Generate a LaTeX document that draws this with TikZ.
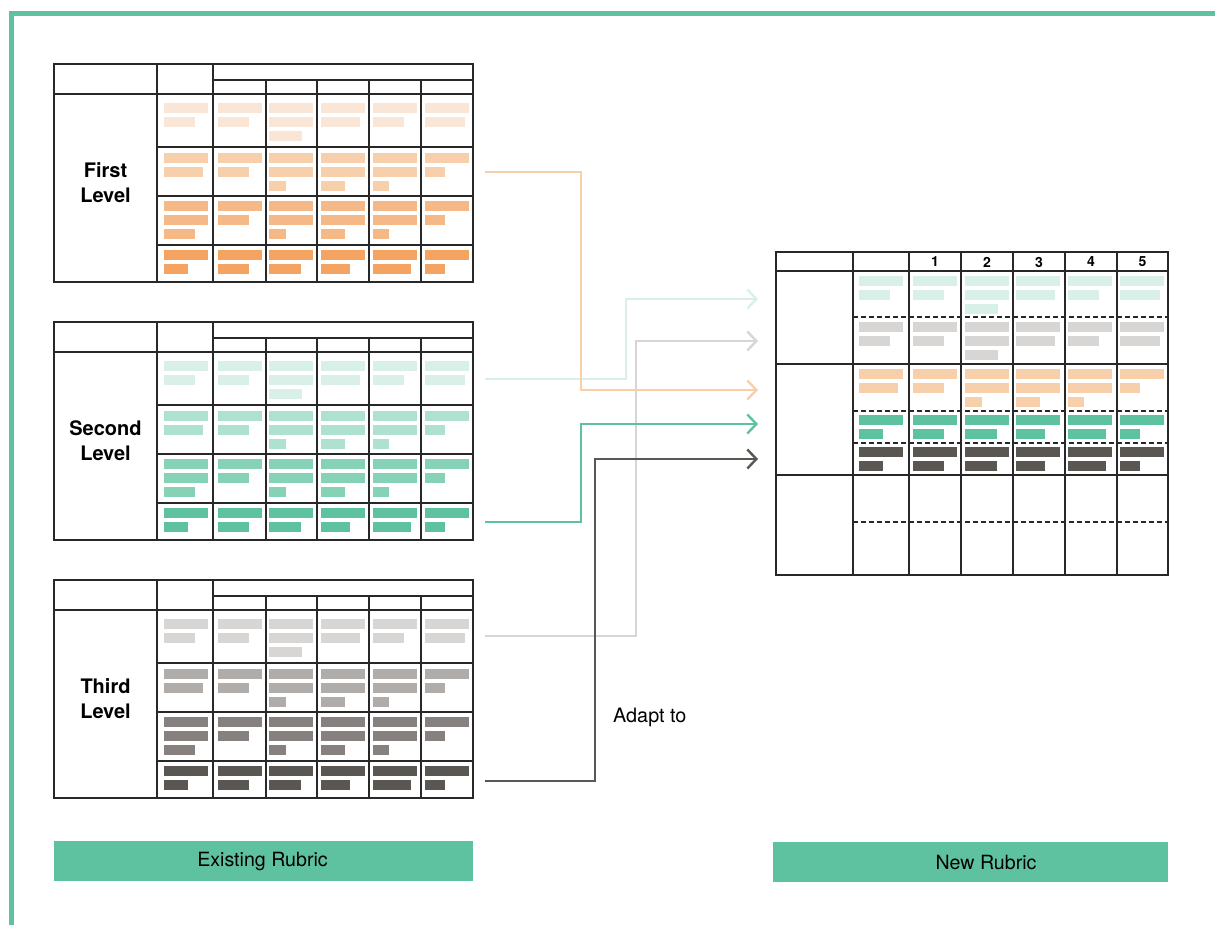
\documentclass[tikz,border=0pt]{standalone}
\usepackage{fontspec}
\setmainfont{TeX Gyre Heros}
\usetikzlibrary{arrows.meta}

% palette
\definecolor{brand}{RGB}{94,193,159}
\definecolor{gridc}{RGB}{40,40,40}
\definecolor{o1}{RGB}{250,230,214}
\definecolor{o2}{RGB}{248,207,171}
\definecolor{o3}{RGB}{245,185,135}
\definecolor{o4}{RGB}{244,164,96}
\definecolor{g1}{RGB}{216,240,232}
\definecolor{g2}{RGB}{175,225,208}
\definecolor{g3}{RGB}{134,210,183}
\definecolor{g4}{RGB}{94,193,159}
\definecolor{k1}{RGB}{216,214,212}
\definecolor{k2}{RGB}{176,172,170}
\definecolor{k3}{RGB}{134,128,126}
\definecolor{k4}{RGB}{90,86,82}

% placeholder bar patterns: column/line/width
\def\patA{0/0/44,0/1/31,1/0/44,1/1/31,2/0/44,2/1/44,2/2/33,3/0/44,3/1/39,4/0/44,4/1/31,5/0/44,5/1/40}
\def\patB{0/0/44,0/1/39,1/0/44,1/1/31,2/0/44,2/1/44,2/2/17,3/0/44,3/1/44,3/2/24,4/0/44,4/1/44,4/2/16,5/0/44,5/1/20}
\def\patC{0/0/44,0/1/44,0/2/31,1/0/44,1/1/31,2/0/44,2/1/44,2/2/17,3/0/44,3/1/44,3/2/24,4/0/44,4/1/44,4/2/16,5/0/44,5/1/20}
\def\patD{0/0/44,0/1/24,1/0/44,1/1/31,2/0/44,2/1/32,3/0/44,3/1/29,4/0/44,4/1/38,5/0/44,5/1/20}

% left edges of the bars in each column
\def\xL{164,218,269,321,373,425}
\def\xR{859,913,965,1016,1068,1120}

% one band of bars: #1 x starts, #2 top, #3 colour, #4 pattern
\newcommand\barrow[4]{%
  \foreach \c/\k/\w in #4 {
    \pgfmathsetmacro\xs{{#1}[\c]}
    \fill[#3] (\xs,#2+14*\k) rectangle ++(\w,10);
  }%
}

% an existing rubric: #1 top, #2 label name, #3 label, #4-#7 band colours
\newcommand\oldrubric[7]{%
  \barrow{\xL}{#1+39}{#4}{\patA}
  \barrow{\xL}{#1+89}{#5}{\patB}
  \barrow{\xL}{#1+137}{#6}{\patC}
  \barrow{\xL}{#1+186}{#7}{\patD}
  \draw[grid] (54,#1) rectangle (473,#1+218);
  \draw[grid] (157,#1) -- (157,#1+218);
  \draw[grid] (213,#1) -- (213,#1+218);
  \foreach \x in {266,317,369,421} \draw[grid] (\x,#1+16) -- (\x,#1+218);
  \draw[grid] (213,#1+16) -- (473,#1+16);
  \draw[grid] (54,#1+30) -- (473,#1+30);
  \foreach \d in {83,132,181} \draw[grid] (157,#1+\d) -- (473,#1+\d);
  \node[level] (#2) at (105.5,#1+119) {#3};
}

\begin{document}
\begin{tikzpicture}[x=1pt,y=-1pt,
  grid/.style={draw=gridc,line width=1.8pt},
  dash line/.style={grid,dash pattern=on 5pt off 3pt},
  level/.style={font=\fontsize{20}{25}\selectfont\bfseries,align=center,inner sep=0pt},
  num/.style={font=\fontsize{14}{16}\selectfont\bfseries,inner sep=0pt},
  link/.style={line width=2.4pt,-{Straight Barb[length=9pt,width=19pt]}},
  greenbox/.style={fill=brand,inner sep=0pt},
  boxtext/.style={font=\fontsize{19.6}{21}\selectfont,inner sep=0pt}]

\useasboundingbox (0,0) rectangle (1215,925);

% page frame
\draw[brand,line width=5pt] (11,925) -- (11,13.5) -- (1215,13.5);

% existing rubrics
\oldrubric{64}{first}{First\\Level}{o1}{o2}{o3}{o4}
\oldrubric{322}{second}{Second\\Level}{g1}{g2}{g3}{g4}
\oldrubric{580}{third}{Third\\Level}{k1}{k2}{k3}{k4}

% new rubric bars
\barrow{\xR}{276}{g1}{\patA}
\barrow{\xR}{322}{k1}{\patA}
\barrow{\xR}{369}{o2}{\patB}
\barrow{\xR}{415}{g4}{\patD}
\barrow{\xR}{447}{k4}{\patD}

% new rubric grid
\draw[grid] (776,252) rectangle (1168,575);
\foreach \x in {853,909,961,1013,1065,1117} \draw[grid] (\x,252) -- (\x,575);
\foreach \y in {271,364,475} \draw[grid] (776,\y) -- (1168,\y);
\foreach \y in {317,411,443,522} \draw[dash line] (853,\y) -- (1168,\y);
\foreach \n/\x in {1/935,2/987,3/1039,4/1091,5/1142.5}
  \node[num] (h\n) at (\x,262) {\n};

% connector ends
\coordinate (sA) at (485,172);  \coordinate (eA) at (758,390);
\coordinate (sB) at (485,379);  \coordinate (eB) at (758,299);
\coordinate (sC) at (485,636);  \coordinate (eC) at (758,341);
\coordinate (sD) at (485,522);  \coordinate (eD) at (758,424);
\coordinate (sE) at (485,781);  \coordinate (eE) at (758,459);

\draw[link,k1] (sC) -| (636,341) -- (eC);
\draw[link,g1] (sB) -| (626,299) -- (eB);
\draw[link,o2] (sA) -| (581,390) -- (eA);
\draw[link,g4] (sD) -| (581,424) -- (eD);
\draw[link,k4] (sE) -| (595,459) -- (eE);

\node[anchor=west,font=\fontsize{19.8}{21}\selectfont,inner sep=0pt] (adapt) at (613,717) {Adapt to};

% captions
\node[greenbox,minimum width=419pt,minimum height=40pt] (oldbox) at (263.5,861) {};
\node[boxtext] (oldlabel) at (262.5,861) {Existing Rubric};
\node[greenbox,minimum width=395pt,minimum height=40pt] (newbox) at (970.5,862) {};
\node[boxtext] (newlabel) at (986,862) {New Rubric};
\end{tikzpicture}
\end{document}
